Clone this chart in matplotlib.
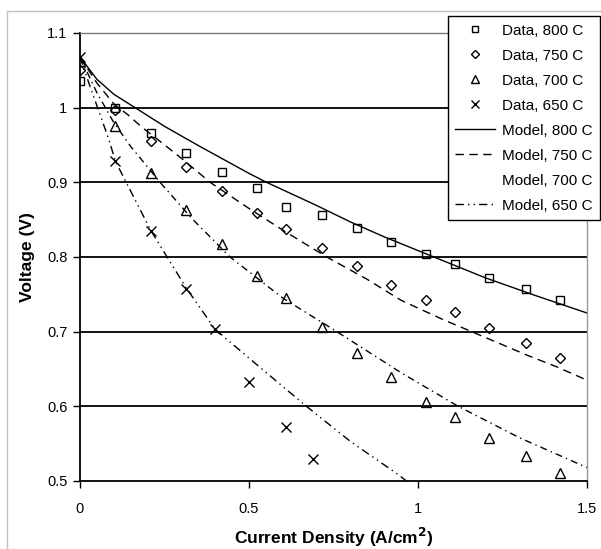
import matplotlib
matplotlib.use('Agg')
import matplotlib.pyplot as plt
from matplotlib.lines import Line2D

plt.rcParams['font.family'] = ['Liberation Sans', 'DejaVu Sans']

current = [0, 0.105, 0.21, 0.315, 0.42, 0.525, 0.61, 0.715, 0.82, 0.92, 1.025, 1.11, 1.21, 1.32, 1.42]
v_800 = [1.036, 0.999, 0.966, 0.939, 0.914, 0.893, 0.867, 0.856, 0.839, 0.820, 0.804, 0.790, 0.772, 0.757, 0.743]
v_750 = [1.050, 0.997, 0.956, 0.921, 0.888, 0.859, 0.838, 0.812, 0.788, 0.763, 0.742, 0.726, 0.705, 0.685, 0.665]
v_700 = [1.062, 0.975, 0.913, 0.863, 0.817, 0.775, 0.745, 0.706, 0.672, 0.639, 0.606, 0.586, 0.557, 0.533, 0.511]
current_650 = [0, 0.105, 0.21, 0.315, 0.40, 0.50, 0.61, 0.69]
v_650 = [1.068, 0.928, 0.835, 0.757, 0.703, 0.633, 0.572, 0.530]

# --- model curves ---
m800_i = [0, 0.05, 0.1, 0.163, 0.25, 0.355, 0.5, 0.552, 0.7, 0.8, 0.9, 1.047, 1.2, 1.35, 1.5]
m800_v = [1.068, 1.038, 1.018, 1.0, 0.975, 0.948, 0.912, 0.9, 0.869, 0.847, 0.827, 0.8, 0.772, 0.748, 0.725]
m750_i = [0, 0.05, 0.1, 0.143, 0.18, 0.256, 0.306, 0.385, 0.5, 0.6, 0.73, 0.85, 0.95, 1.075, 1.159, 1.32, 1.41, 1.5]
m750_v = [1.068, 1.033, 1.005, 0.99, 0.975, 0.948, 0.93, 0.9, 0.865, 0.836, 0.8, 0.77, 0.742, 0.716, 0.7, 0.669, 0.653, 0.635]
m700_i = [0, 0.05, 0.1, 0.15, 0.237, 0.33, 0.444, 0.6, 0.76, 0.95, 1.119, 1.3, 1.5]
m700_v = [1.068, 1.02, 0.98, 0.948, 0.9, 0.852, 0.8, 0.745, 0.7, 0.645, 0.6, 0.558, 0.518]
m650_i = [0, 0.03, 0.06, 0.087, 0.105, 0.21, 0.315, 0.40, 0.533, 0.67, 0.8, 0.937, 0.966]
m650_v = [1.068, 1.028, 0.99, 0.955, 0.928, 0.835, 0.758, 0.703, 0.652, 0.6, 0.553, 0.51, 0.5]

yticks = [0.5, 0.6, 0.7, 0.8, 0.9, 1.0, 1.1]
yticklabels = ['0.5', '0.6', '0.7', '0.8', '0.9', '1', '1.1']
xticks = [0, 0.5, 1.0, 1.5]
xticklabels = ['0', '0.5', '1', '1.5']

W, H = 601, 549
fig = plt.figure(figsize=(W / 100, H / 100), dpi=100)
ax = fig.add_axes([80 / W, 1 - 481 / H, (587 - 80) / W, (481 - 33) / H])

# gridlines
for y in yticks[1:-1]:
    ax.axhline(y, color='black', lw=1.3, zorder=1)

mk = dict(linestyle='none', markerfacecolor='none', markeredgecolor='black', markeredgewidth=1.0, zorder=3)
ax.plot(current, v_800, marker='s', markersize=5.5, **mk)
ax.plot(current, v_750, marker='D', markersize=5.5, **mk)
ax.plot(current, v_700, marker='^', markersize=6.5, **mk)
ax.plot(current_650, v_650, marker='x', markersize=6.5, **mk)

ax.plot(m800_i, m800_v, color='black', lw=1.0, zorder=2)
ax.plot(m750_i, m750_v, color='black', lw=1.0, linestyle=(0, (6, 4)), zorder=2)
ax.plot(m700_i, m700_v, color='black', lw=1.0, linestyle=(0, (5, 3, 1, 3)), zorder=2)
ax.plot(m650_i, m650_v, color='black', lw=1.0, linestyle=(0, (6, 3, 1, 3, 1, 3)), zorder=2)

ax.set_xlim(0, 1.5)
ax.set_ylim(0.5, 1.1)
ax.set_xticks(xticks)
ax.set_xticklabels(xticklabels)
ax.set_yticks(yticks)
ax.set_yticklabels(yticklabels)
ax.tick_params(axis='both', direction='out', length=5, width=1.0, labelsize=10.5, colors='black')
ax.tick_params(axis='x', pad=10)
ax.tick_params(axis='y', pad=4)

ax.spines['left'].set_linewidth(1.3)
ax.spines['bottom'].set_linewidth(1.3)
ax.spines['top'].set_color('#777777')
ax.spines['right'].set_color('#999999')
ax.spines['top'].set_linewidth(1.0)
ax.spines['right'].set_linewidth(1.0)

ax.set_xlabel('Current Density (A/cm$^\\mathbf{2}$)', fontsize=12.5, fontweight='bold', labelpad=7)
ax.set_ylabel('Voltage (V)', fontsize=12.5, fontweight='bold', labelpad=9)

# outer chart border (top and left visible)
fig.add_artist(Line2D([7 / W, 7 / W], [0, 1 - 11 / H], transform=fig.transFigure, color='#c0c0c0', lw=1))
fig.add_artist(Line2D([7 / W, 1], [1 - 11 / H, 1 - 11 / H], transform=fig.transFigure, color='#c0c0c0', lw=1))

lk = dict(markerfacecolor='none', markeredgecolor='black', markeredgewidth=1.0)
handles = [
    Line2D([], [], linestyle='none', marker='s', markersize=4.5, **lk),
    Line2D([], [], linestyle='none', marker='D', markersize=4.5, **lk),
    Line2D([], [], linestyle='none', marker='^', markersize=5.5, **lk),
    Line2D([], [], linestyle='none', marker='x', markersize=5.5, **lk),
    Line2D([], [], color='black', lw=1.0),
    Line2D([], [], color='black', lw=1.0, linestyle=(0, (6, 4))),
    Line2D([], [], linestyle='none'),
    Line2D([], [], color='black', lw=1.0, linestyle=(0, (6, 3, 1, 3, 1, 3))),
]
labels = ['Data, 800 C', 'Data, 750 C', 'Data, 700 C', 'Data, 650 C',
          'Model, 800 C', 'Model, 750 C', 'Model, 700 C', 'Model, 650 C']
leg = fig.legend(handles, labels, loc='upper right', bbox_to_anchor=(600 / W, 1 - 16 / H),
                 fontsize=11, frameon=True, fancybox=False, framealpha=1, edgecolor='black',
                 handlelength=2.6, handletextpad=0.45, labelspacing=0.72, borderpad=0.5,
                 borderaxespad=0)
leg.get_frame().set_linewidth(1.0)

fig.savefig('out.png', dpi=100)
